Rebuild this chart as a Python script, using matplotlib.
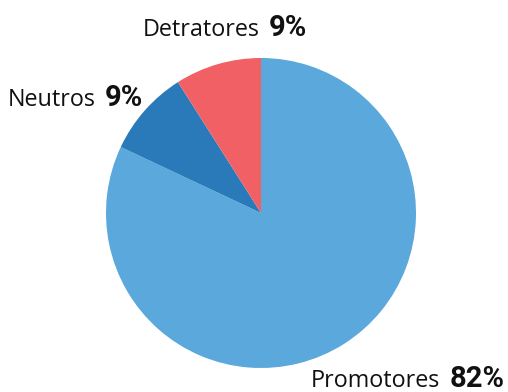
import matplotlib
matplotlib.use("Agg")
import matplotlib.pyplot as plt

labels = ["Promotores", "Neutros", "Detratores"]
values = [82, 9, 9]
colors = ["#5BA8DC", "#2A7ABA", "#F06064"]
# where each label sits (left x, baseline y in pixels from top)
label_pos = [(311, 387), (8, 106), (143, 36)]

W, H = 508, 392
fig = plt.figure(figsize=(W / 100, H / 100), dpi=100)
ax = fig.add_axes([106 / W, (H - 368) / H, 310 / W, 310 / H])
ax.pie(values, colors=colors, startangle=90, counterclock=False, radius=1,
       wedgeprops=dict(linewidth=0))
ax.set_xlim(-1, 1)
ax.set_ylim(-1, 1)
ax.set_aspect("equal")
ax.axis("off")

fig.canvas.draw()
r = fig.canvas.get_renderer()
for name, v, (x, y) in zip(labels, values, label_pos):
    t = fig.text(x / W, (H - y) / H, name, fontsize=16.8, family="Open Sans",
                 color="#111111", va="baseline", ha="left")
    bb = t.get_window_extent(r)
    fig.text((bb.x1 + 9) / W, (H - y) / H, f"{v}%", fontsize=21,
             family="Roboto", weight="bold",
             color="#111111", va="baseline", ha="left")

fig.savefig("out.png", dpi=100)
